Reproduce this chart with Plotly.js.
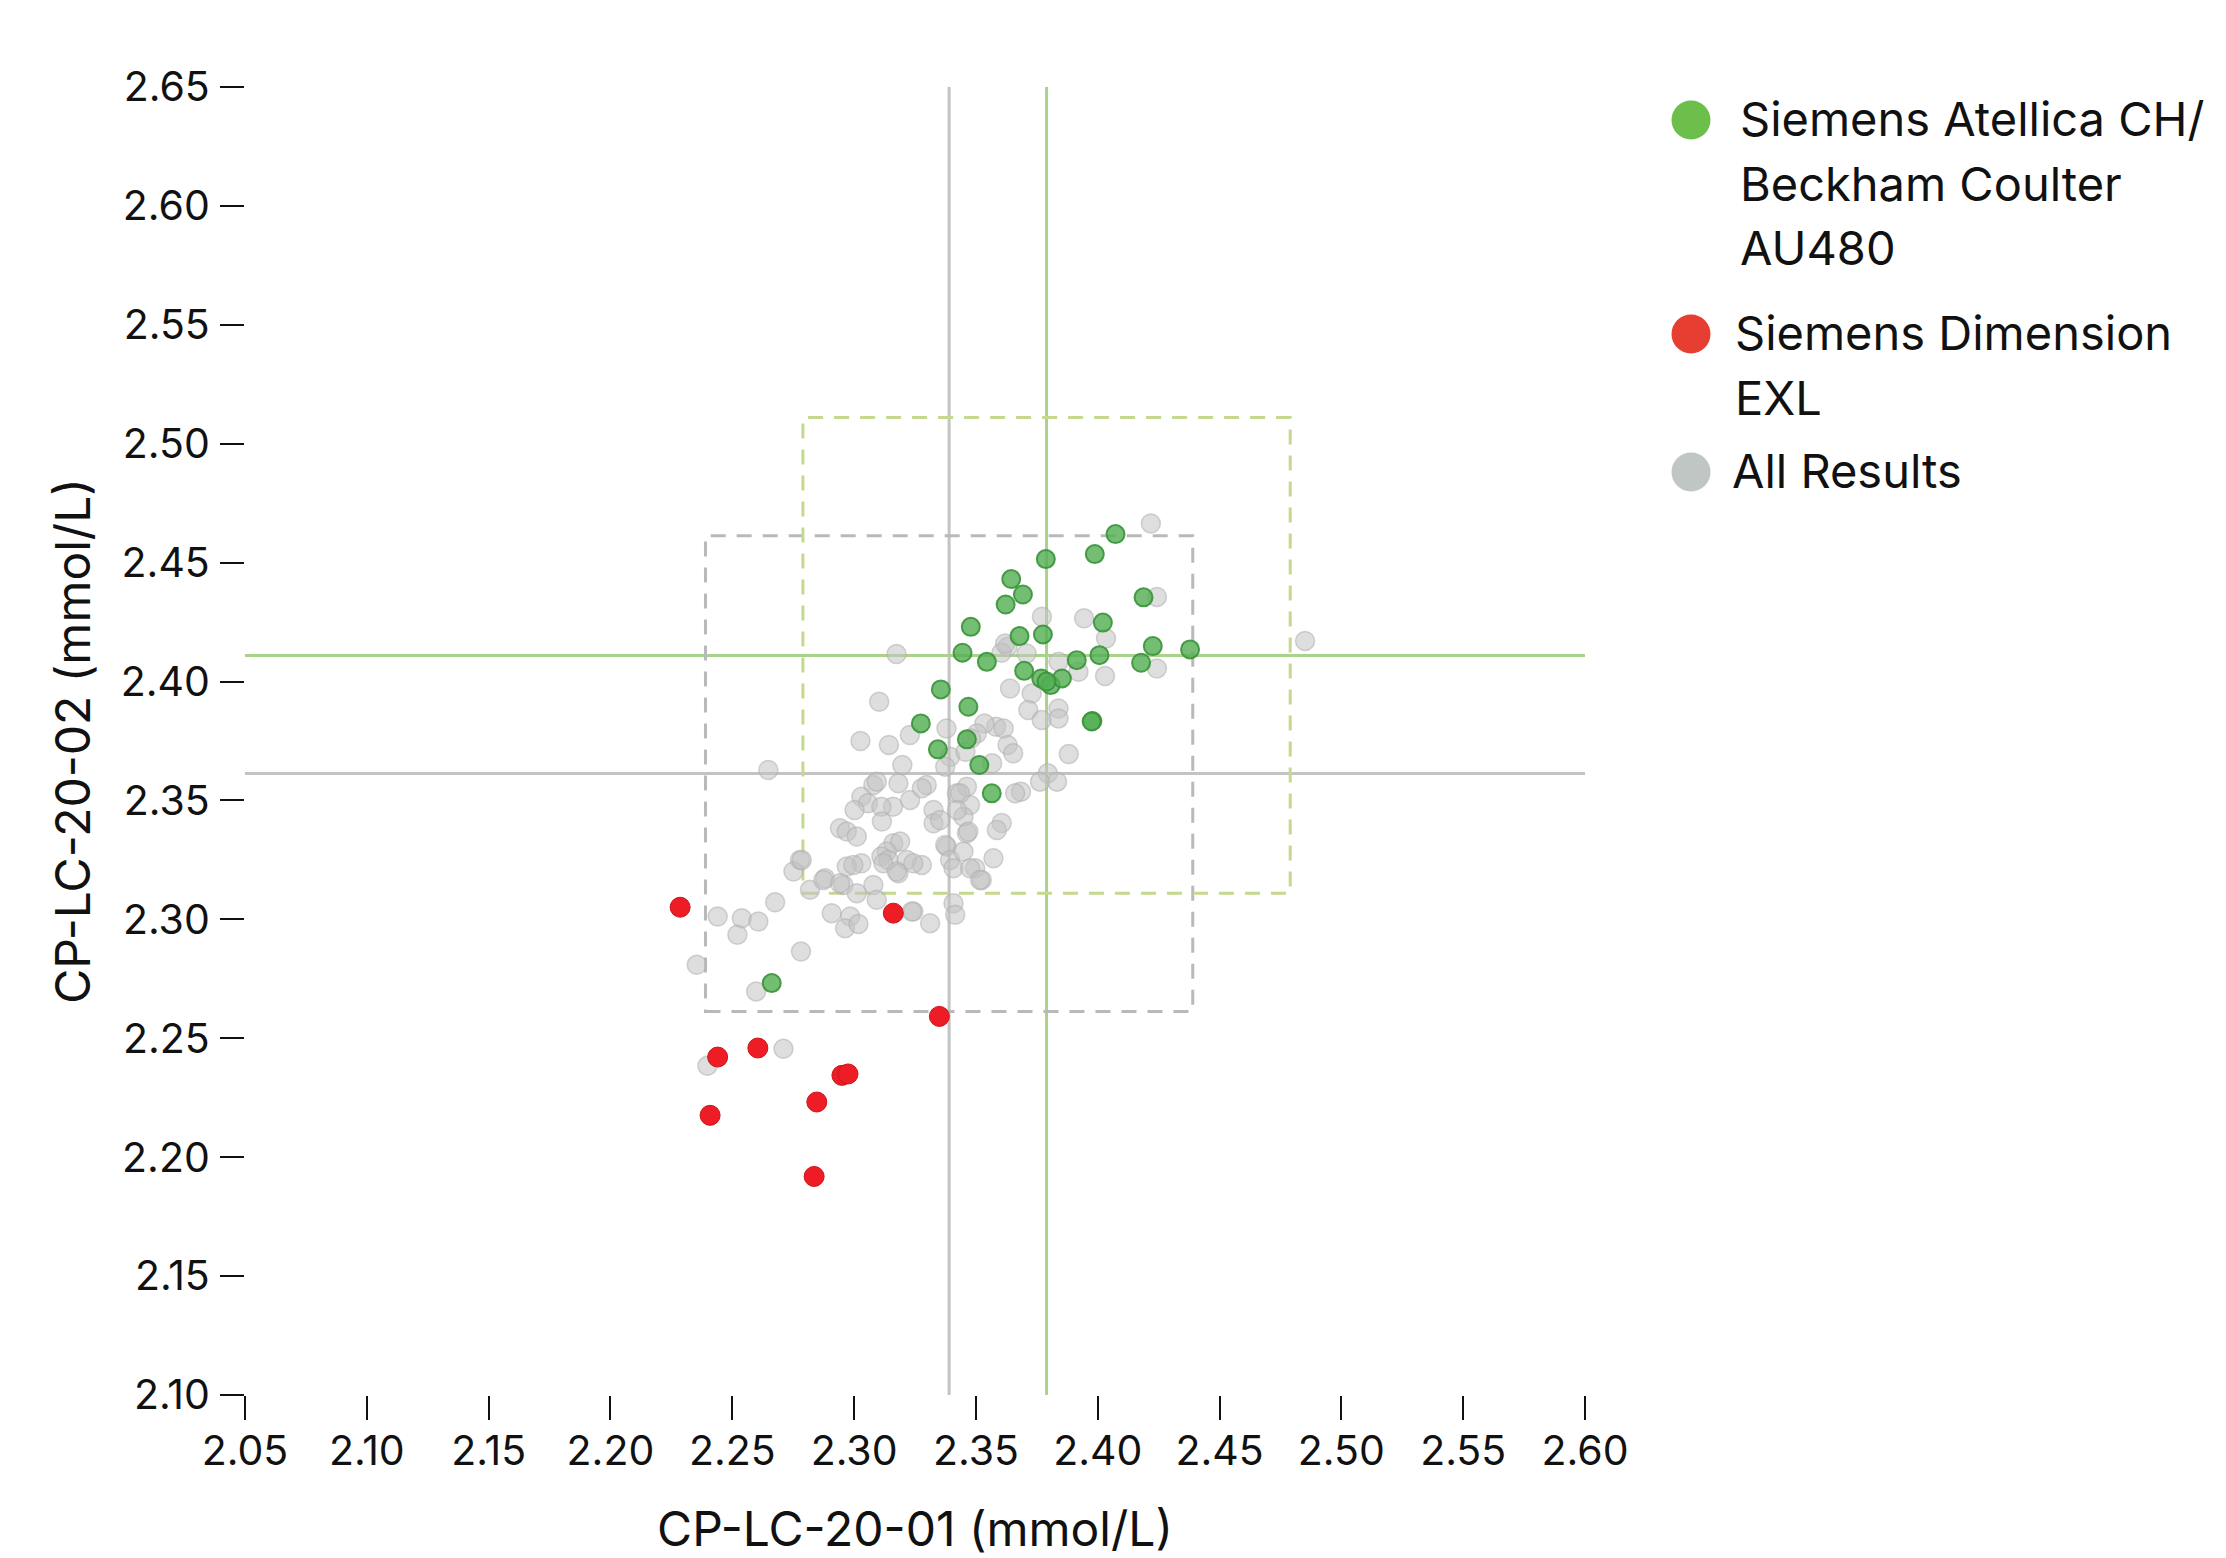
<!DOCTYPE html>
<html>
<head>
<meta charset="utf-8">
<script src="https://cdn.plot.ly/plotly-3.0.1.min.js"></script>
<style>
  html, body { margin: 0; padding: 0; background: #ffffff; }
  #chart { width: 2226px; height: 1558px; }
</style>
</head>
<body>
<div id="chart"></div>
<script>
// ---------------- DATA ----------------
const seriesNames = ["Siemens Atellica CH/<br>Beckham Coulter<br>AU480", "Siemens Dimension<br>EXL", "All Results"];

const allX = [2.4218,2.4243,2.3944,2.3771,2.4034,2.4851,2.4243,2.4030,2.3921,2.3839,
  2.3174,2.3630,2.3708,2.3605,2.3640,2.3729,2.3715,2.3839,2.3770,2.3103,
  2.3881,2.3143,2.3229,2.2648,2.3198,2.3379,2.3583,2.3535,2.3614,2.3504,
  2.3630,2.3653,2.3567,2.3795,2.3833,2.3685,2.3763,2.3394,2.3457,2.3480,
  2.3374,2.3298,2.3463,2.3422,2.3182,2.3160,2.3230,2.3326,2.3476,2.3449,
  2.3606,2.3586,2.3463,2.3326,2.3380,2.3661,2.3435,2.3079,2.3278,2.3030,
  2.3057,2.3002,2.3112,2.3353,2.3422,2.3469,2.2942,2.2970,2.3011,2.3114,
  2.3161,2.3189,2.3134,2.3112,2.3141,2.3216,2.3278,2.3374,2.3394,2.3449,
  2.3497,2.3524,2.3572,2.3408,2.3030,2.2970,2.3182,2.2881,2.2956,2.2778,
  2.2751,2.2819,2.3011,2.3079,2.3093,2.3408,2.3415,2.3243,2.3312,2.2908,
  2.2984,2.2963,2.3018,2.2440,2.2539,2.2521,2.2607,2.2676,2.2354,2.2598,
  2.2710,2.2782,2.2398,2.3237,2.3476,2.3517,2.3120,2.3175,2.3243,2.3620,
  2.3026,2.2874,2.2942,2.2997,2.2785,2.3093,2.3839];
const allY = [2.4665,2.4356,2.4266,2.4272,2.4181,2.4171,2.4055,2.4023,2.4041,2.4083,
  2.4116,2.4146,2.4118,2.4121,2.3971,2.3950,2.3880,2.3887,2.3838,2.3915,
  2.3695,2.3733,2.3775,2.3628,2.3649,2.3803,2.3810,2.3824,2.3803,2.3782,
  2.3733,2.3698,2.3656,2.3614,2.3579,2.3537,2.3579,2.3684,2.3705,2.3760,
  2.3642,2.3565,2.3558,2.3530,2.3572,2.3474,2.3502,2.3460,2.3481,2.3432,
  2.3405,2.3376,2.3362,2.3404,2.3306,2.3530,2.3530,2.3565,2.3551,2.3516,
  2.3488,2.3460,2.3474,2.3418,2.3460,2.3369,2.3383,2.3369,2.3348,2.3411,
  2.3320,2.3327,2.3285,2.3264,2.3250,2.3250,2.3229,2.3313,2.3250,2.3285,
  2.3215,2.3166,2.3257,2.3215,2.3236,2.3222,2.3194,2.3173,2.3145,2.3250,
  2.3201,2.3124,2.3110,2.3145,2.3082,2.3068,2.3019,2.3033,2.2984,2.3026,
  2.3012,2.2963,2.2981,2.3012,2.3005,2.2935,2.2991,2.3072,2.2809,2.2697,
  2.2456,2.2865,2.2384,2.3033,2.3215,2.3166,2.3236,2.3201,2.3236,2.4160,
  2.3750,2.3166,2.3152,2.3229,2.3250,2.3579,2.3845];

const greenX = [2.4073,2.3988,2.3787,2.3645,2.3693,2.3622,2.3479,2.4188,2.4021,2.3679,
  2.3775,2.4226,2.4379,2.3445,2.3545,2.3914,2.4007,2.4178,2.3698,2.3768,
  2.3807,2.3853,2.3356,2.3469,2.3274,2.3978,2.3463,2.3344,2.3514,2.3565,
  2.2662,2.3790,2.3975];
const greenY = [2.4620,2.4536,2.4515,2.4431,2.4366,2.4324,2.4230,2.4354,2.4248,2.4191,
  2.4198,2.4149,2.4135,2.4121,2.4083,2.4090,2.4111,2.4079,2.4045,2.4013,
  2.3985,2.4013,2.3967,2.3894,2.3824,2.3834,2.3757,2.3715,2.3649,2.3530,
  2.2732,2.4000,2.3832];

const redX = [2.2286,2.3161,2.3350,2.2440,2.2605,2.2950,2.2975,2.2847,2.2409,2.2836];
const redY = [2.3051,2.3026,2.2592,2.2421,2.2459,2.2344,2.2350,2.2232,2.2176,2.1919];

// group means (reference lines) and the +/- acceptance half-width of the dashed boxes
const allMean = [2.339, 2.3613];
const greenMean = [2.379, 2.411];
const boxHalf = 0.1;

const xTicks = [2.05,2.10,2.15,2.20,2.25,2.30,2.35,2.40,2.45,2.50,2.55,2.60];
const yTicks = [2.10,2.15,2.20,2.25,2.30,2.35,2.40,2.45,2.50,2.55,2.60,2.65];

// ---------------- LAYOUT ----------------
const W = 2226, H = 1558;
const M = {l: 245, r: 641, t: 87, b: 163};
const PW = W - M.l - M.r, PH = H - M.t - M.b;
const px2paperX = p => (p - M.l) / PW;
const px2paperY = p => (H - M.b - p) / PH;

const FONT = "Inter, 'Open Sans', sans-serif";
const colGrayLine = "#c3c3c3";
const colGreenLine = "#a9d38a";
const colGrayDash = "#b9b9b9";
const colGreenDash = "#c5d98e";

const traces = [
  {
    type: "scatter", mode: "markers", name: seriesNames[2].replace(/<br>/g, " "),
    x: allX, y: allY, showlegend: false, hoverinfo: "x+y",
    marker: {size: 19, color: "rgba(194,194,194,0.55)", line: {color: "rgba(175,175,175,0.55)", width: 1.5}}
  },
  {
    type: "scatter", mode: "markers", name: seriesNames[0].replace(/<br>/g, " "),
    x: greenX, y: greenY, showlegend: false, hoverinfo: "x+y",
    marker: {size: 18, color: "rgba(84,176,84,0.82)", line: {color: "rgba(58,146,58,0.9)", width: 2}}
  },
  {
    type: "scatter", mode: "markers", name: seriesNames[1].replace(/<br>/g, " "),
    x: redX, y: redY, showlegend: false, hoverinfo: "x+y",
    marker: {size: 20, color: "#ee1c24", line: {color: "#c9161a", width: 1}}
  }
];

const shapes = [
  // dashed acceptance boxes
  {type: "rect", xref: "x", yref: "y", layer: "below",
   x0: allMean[0] - boxHalf, x1: allMean[0] + boxHalf, y0: allMean[1] - boxHalf, y1: allMean[1] + boxHalf,
   line: {color: colGrayDash, width: 3, dash: "15px,11px"}},
  {type: "rect", xref: "x", yref: "y", layer: "below",
   x0: greenMean[0] - boxHalf, x1: greenMean[0] + boxHalf, y0: greenMean[1] - boxHalf, y1: greenMean[1] + boxHalf,
   line: {color: colGreenDash, width: 3, dash: "15px,11px"}},
  // mean lines
  {type: "line", xref: "x", yref: "paper", layer: "below", x0: allMean[0], x1: allMean[0], y0: 0, y1: 1,
   line: {color: colGrayLine, width: 3}},
  {type: "line", xref: "paper", yref: "y", layer: "below", x0: 0, x1: 1, y0: allMean[1], y1: allMean[1],
   line: {color: colGrayLine, width: 3}},
  {type: "line", xref: "x", yref: "paper", layer: "below", x0: greenMean[0], x1: greenMean[0], y0: 0, y1: 1,
   line: {color: colGreenLine, width: 3}},
  {type: "line", xref: "paper", yref: "y", layer: "below", x0: 0, x1: 1, y0: greenMean[1], y1: greenMean[1],
   line: {color: colGreenLine, width: 3}}
];

// legend (large symbols drawn as shapes, one annotation per text line)
const LINE_PITCH = 64.6;
const legendItems = [
  {name: seriesNames[0], color: "#6dbf4b", cy: 120, tx: 1738},
  {name: seriesNames[1], color: "#e63f32", cy: 334, tx: 1733},
  {name: seriesNames[2], color: "#bfc6c4", cy: 472, tx: 1730}
];
const annotations = [];
legendItems.forEach(it => {
  shapes.push({type: "circle", xref: "paper", yref: "paper", xsizemode: "pixel", ysizemode: "pixel",
    xanchor: px2paperX(1691), yanchor: px2paperY(it.cy), x0: -19.5, x1: 19.5, y0: -19.5, y1: 19.5,
    fillcolor: it.color, line: {width: 0}});
  it.name.split("<br>").forEach((line, i) => {
    annotations.push({xref: "paper", yref: "paper", x: px2paperX(it.tx), y: px2paperY(it.cy - 32 + i * LINE_PITCH),
      xanchor: "left", yanchor: "top", align: "left", showarrow: false, text: line,
      font: {family: FONT, size: 47, color: "#111111"}});
  });
});

const axisCommon = {
  showgrid: false, zeroline: false, showline: false,
  ticks: "outside", ticklen: 24, tickwidth: 2, tickcolor: "#111111",
  tickfont: {family: FONT, size: 41, color: "#111111"},
  tickformat: ".2f", fixedrange: true
};

const layout = {
  width: W, height: H,
  margin: M,
  paper_bgcolor: "#ffffff", plot_bgcolor: "#ffffff",
  showlegend: false,
  font: {family: FONT, color: "#111111"},
  xaxis: Object.assign({}, axisCommon, {
    range: [2.05, 2.60], tickvals: xTicks, ticklabelstandoff: -4,
    title: {text: "CP-LC-20-01 (mmol/L)", font: {family: FONT, size: 48, color: "#111111"}, standoff: 40}
  }),
  yaxis: Object.assign({}, axisCommon, {
    range: [2.10, 2.65], tickvals: yTicks, ticklabelstandoff: 2,
    title: {text: "CP-LC-20-02 (mmol/L)", font: {family: FONT, size: 48, color: "#111111"}, standoff: 14}
  }),
  shapes: shapes,
  annotations: annotations
};

Plotly.newPlot("chart", traces, layout, {displayModeBar: false, staticPlot: false});
</script>
</body>
</html>
